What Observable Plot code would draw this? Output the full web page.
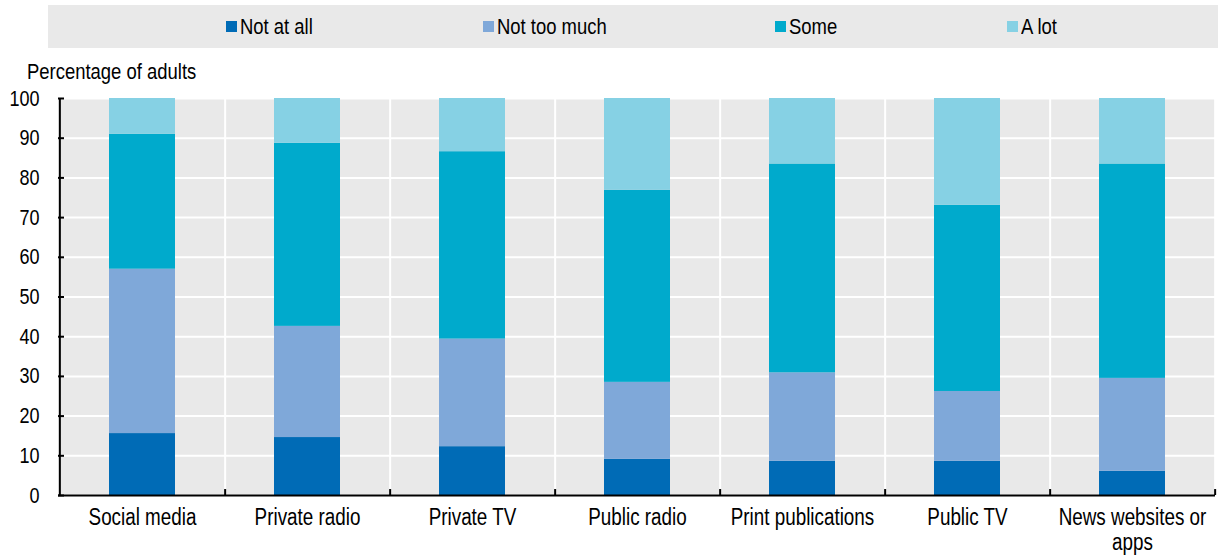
<!DOCTYPE html>
<html>
<head>
<meta charset="utf-8">
<script src="https://cdn.jsdelivr.net/npm/d3@7"></script>
<script src="https://cdn.jsdelivr.net/npm/@observablehq/plot@0.6"></script>
<style>
  body { margin: 0; background: #fff; font-family: "Liberation Sans", Arial, sans-serif; color: #000; }
  /* narrow type: regular face compressed horizontally */
  .narrow { display: inline-block; transform: scaleX(0.82); transform-origin: 0 50%; white-space: nowrap; }
  #legend { position: relative; height: 52px; }
  #legend .box { position: absolute; left: 48px; right: 0; top: 5px; height: 43px; background: #e9e9e9; }
  #legend .item { position: absolute; top: 5px; height: 43px; display: flex; align-items: center; font-size: 22.5px; }
  #legend .sw { width: 11px; height: 11px; margin-right: 3px; flex: none; }
  #ylabel { height: 34px; font-size: 22.5px; padding-left: 27px; line-height: 40px; }
  svg { display: block; }
</style>
</head>
<body>
<div id="legend"><div class="box"></div></div>
<div id="ylabel"><span class="narrow">Percentage of adults</span></div>
<div id="chart"></div>
<script>
// Media sources, left to right
const categories = ["Social media", "Private radio", "Private TV", "Public radio", "Print publications", "Public TV", "News websites or apps"];
const xTickLabels = ["Social media", "Private radio", "Private TV", "Public radio", "Print publications", "Public TV", "News websites or\napps"];

// Trust levels, stacked bottom to top
const levels = ["Not at all", "Not too much", "Some", "A lot"];
const colors = ["#006bb6", "#7fa8d9", "#00aacc", "#86d1e4"];

// Share of adults (%) for each level, one value per media source
const notAtAll   = [15.6, 14.6, 12.3,  9.1,  8.6,  8.6,  6.1];
const notTooMuch = [41.4, 28.0, 27.1, 19.4, 22.3, 17.6, 23.4];
const some       = [34.0, 46.1, 47.2, 48.4, 52.6, 46.9, 54.0];
const aLot       = [ 9.0, 11.3, 13.4, 23.1, 16.5, 26.9, 16.5];

const yTicks = [0, 10, 20, 30, 40, 50, 60, 70, 80, 90, 100];

const series = [notAtAll, notTooMuch, some, aLot];
const rows = categories.flatMap((c, i) =>
  levels.map((l, j) => ({category: c, level: l, value: series[j][i]}))
);

// Legend strip
const legendLeft = [226, 483, 775, 1007];
const legend = document.getElementById("legend");
levels.forEach((l, j) => {
  const item = document.createElement("div");
  item.className = "item";
  item.style.left = legendLeft[j] + "px";
  const sw = document.createElement("span");
  sw.className = "sw";
  sw.style.background = colors[j];
  const tx = document.createElement("span");
  tx.className = "narrow";
  tx.textContent = l;
  item.append(sw, tx);
  legend.append(item);
});

const width = 1218, height = 470, marginLeft = 58, marginRight = 3;
const step = (width - marginLeft - marginRight) / categories.length;

const chart = Plot.plot({
  width, height,
  marginTop: 12, marginBottom: 61, marginLeft, marginRight,
  style: {fontFamily: '"Liberation Sans", Arial, sans-serif', fontSize: "22px", color: "#000", background: "transparent"},
  x: {domain: categories, paddingInner: 0.6, paddingOuter: 0.3, label: null},
  y: {domain: [0, 100], label: null},
  color: {domain: levels, range: colors},
  marks: [
    Plot.frame({fill: "#e9e9e9", stroke: "none"}),
    Plot.gridY(yTicks, {stroke: "#fff", strokeOpacity: 1, strokeWidth: 2}),
    Plot.gridX(categories, {dx: step / 2, stroke: "#fff", strokeOpacity: 1, strokeWidth: 2}),
    Plot.barY(rows, {x: "category", y: "value", fill: "level"}),
    Plot.ruleY([0], {stroke: "#000", strokeWidth: 2}),
    Plot.ruleX([categories[0]], {dx: -step / 2, stroke: "#000", strokeWidth: 2}),
    Plot.ruleX(categories, {dx: step / 2, y1: 0, y2: 1.5, stroke: "#000", strokeWidth: 2}),
    Plot.axisY(yTicks, {tickSize: -6, tickPadding: 25, strokeWidth: 2, label: null, fontSize: 22}),
    Plot.axisX({
      tickSize: 0, tickPadding: 12, label: null, fontSize: 23, lineHeight: 1.09,
      tickFormat: d => xTickLabels[categories.indexOf(d)]
    })
  ]
});

// Compress the chart's text to a narrow width, about each label's anchor point
d3.select(chart).selectAll("text").each(function() {
  const t = this.getAttribute("transform") || "";
  this.setAttribute("transform", t + " scale(0.82,1)");
});

document.getElementById("chart").append(chart);
</script>
</body>
</html>
